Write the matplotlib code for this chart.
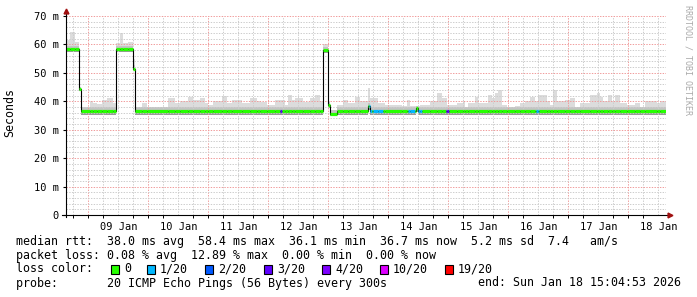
import numpy as np
import matplotlib.pyplot as plt
from matplotlib.patches import Rectangle

# time axis: hours since graph start (Jan 8 15:04:53), 240 h shown
# smoke (max ping) as steps
smoke_edges = [0, 1.6, 3.6, 5.2, 6.0, 9.6, 10.8, 12.4, 14.4, 16.4, 18.8, 20.0, 21.6, 22.8, 24.8, 26.8,
               27.6, 30.4, 32.4, 40.8, 43.6, 45.6, 48.8, 50.8, 53.6, 55.6, 56.8, 58.8, 62.4, 64.4, 66.4,
               70.4, 73.6, 76.4, 77.6, 80.4, 83.6, 87.6, 88.8, 90.4, 91.6, 94.8, 97.6, 99.6, 101.6, 102.8,
               104.8, 105.6, 108.4, 110.8, 112.8, 115.6, 117.6, 120.8, 121.6, 124.8, 127.6, 134.4, 136.4,
               137.6, 139.6, 141.6, 145.6, 148.4, 150.4, 152.4, 156.4, 158.8, 159.6, 160.8, 163.6, 164.8,
               168.8, 170.4, 171.6, 172.8, 174.4, 176.4, 179.6, 181.6, 183.6, 185.6, 187.6, 188.8, 192.4,
               193.6, 194.8, 196.4, 199.6, 201.6, 203.6, 205.6, 209.6, 212.4, 213.6, 214.8, 216.8, 218.4,
               219.6, 221.6, 224.4, 227.6, 229.6, 231.6, 236.4, 237.6, 240.0]
smoke_max = [61.5, 64.5, 61, 45, 38, 40, 39.5, 39, 40.4, 41, 39.5, 60.5, 64, 60.5, 61,
             55, 37.9, 39.3, 38, 41, 39.3, 40, 41.5, 40.4, 41, 39.3, 38.8, 40, 42, 39.3,
             40.4, 39.5, 41, 40, 39.9, 38.7, 40.4, 38.7, 42.2, 40.4, 41, 39.9, 41, 42.2, 40,
             60, 40, 37, 38.7, 40.4, 39.5, 41.6, 40, 44.6, 41, 39.3, 38.8, 38.3,
             40.4, 38.3, 38.5, 38.8, 40, 42.8, 41, 38.8, 39.3, 40, 38, 39.5, 41.4,
             39.3, 42.2, 41, 42.8, 44, 38.8, 38, 38.3, 39.3, 40, 41.6, 40, 42.2,
             40, 38.8, 44, 40, 40.4, 41, 38, 39.3, 42.2, 42.8, 41.5, 40, 42.2,
             40, 42.2, 39.3, 38.8, 39.5, 38, 40, 39.3, 40]

# median rtt (ms) with lower / middle smoke levels
med_edges = [0, 5.2, 6.0, 20.0, 26.8, 27.6, 102.8, 104.8, 105.6, 108.4, 120.8, 121.6, 140.0, 140.8, 240]
median = [58.3, 44.3, 36.7, 58.4, 51.5, 36.7, 58.0, 38.7, 35.6, 36.7, 38.5, 36.7, 37.5, 36.7]
smoke_min = [57.2, 43.5, 35.3, 57.3, 50.5, 35.3, 57.0, 37.6, 35.0, 35.3, 36.8, 35.3, 36.4, 35.3]
smoke_mid = [59.6, 45.0, 38.0, 59.6, 52.6, 38.0, 59.2, 39.6, 36.8, 38.0, 39.5, 38.0, 38.4, 38.0]

# packet loss periods
loss_start = [85.6, 121.2, 122.8, 136.8, 140.8, 152.0, 188.0]
loss_end = [86.4, 122.4, 126.8, 139.6, 142.4, 153.2, 189.2]
loss_level = [3, 1, 1, 1, 1, 3, 1]

loss_labels = ['0', '1/20', '2/20', '3/20', '4/20', '10/20', '19/20']
loss_colors = ['#26ff00', '#00b8ff', '#0059ff', '#5e00ff', '#7e00ff', '#dd00ff', '#ff0000']

day_labels = ['09 Jan', '10 Jan', '11 Jan', '12 Jan', '13 Jan', '14 Jan', '15 Jan', '16 Jan', '17 Jan', '18 Jan']
first_midnight = 8.933  # Jan 9 00:00 in hours since start

MONO = 'DejaVu Sans Mono'

# common step grid
edges = np.unique(np.concatenate([smoke_edges, med_edges, loss_start, loss_end]))
mids = (edges[:-1] + edges[1:]) / 2
si = np.searchsorted(smoke_edges, mids) - 1
mi = np.searchsorted(med_edges, mids) - 1
top = np.array(smoke_max)[si]
med = np.array(median)[mi]
low = np.array(smoke_min)[mi]
mid = np.minimum(np.array(smoke_mid)[mi], top)
level = np.zeros(len(mids), dtype=int)
for s, e, l in zip(loss_start, loss_end, loss_level):
    level[(mids > s) & (mids < e)] = l

fig = plt.figure(figsize=(6.97, 2.97), dpi=100)
ax = fig.add_axes([66 / 697, 82 / 297, 600 / 697, 199 / 297])
ax.set_xlim(0, 240)
ax.set_ylim(0, 70)
for sp in ax.spines.values():
    sp.set_visible(False)

# smoke
ax.stairs(top, edges, baseline=mid, fill=True, color='#dcdcdc', lw=0, zorder=1)
ax.stairs(mid, edges, baseline=med, fill=True, color='#c4c4c4', lw=0, zorder=1)
ax.stairs(med, edges, baseline=low, fill=True, color='#9a9a9a', lw=0, zorder=1)

# grid
dots = (0, (1.4, 1.4))
day_x = first_midnight + 24 * np.arange(10)
six_x = [h for h in first_midnight - 6 + 6 * np.arange(41) if 0 < h < 240 and (h - first_midnight) % 24 != 0]
ax.vlines(six_x, 0, 70, colors='#cccccc', linestyles=dots, lw=0.7, zorder=2)
ax.vlines(day_x, 0, 70, colors='#f09a9a', linestyles=dots, lw=0.7, zorder=2)
ax.hlines([v for v in range(2, 71, 2) if v % 10], 0, 240, colors='#cccccc', linestyles=dots, lw=0.7, zorder=2)
ax.hlines(range(10, 71, 10), 0, 240, colors='#f09a9a', linestyles=dots, lw=0.7, zorder=2)

# median line with loss colour
ax.stairs(median, med_edges, baseline=None, color='black', lw=0.8, zorder=3)
ax.hlines(med, edges[:-1], edges[1:], colors=[loss_colors[l] for l in level], lw=2.3, zorder=4)

# axes with arrows
ax.plot([0, 0], [-0.6, 71.5], color='black', lw=0.8, clip_on=False, zorder=5)
ax.plot([-1.6, 241], [0, 0], color='black', lw=0.8, clip_on=False, zorder=5)
ax.plot(0, 71.8, marker='^', color='#a01010', ms=3.5, clip_on=False, zorder=6)
ax.plot(241.6, 0, marker='>', color='#a01010', ms=3.5, clip_on=False, zorder=6)

ax.set_yticks(range(0, 71, 10))
ax.set_yticklabels(['0'] + ['%d m' % v for v in range(10, 71, 10)])
ax.set_xticks(day_x + 12)
ax.set_xticklabels(day_labels)
ax.set_xticks(sorted(list(six_x) + list(day_x)), minor=True)
ax.tick_params(axis='y', length=2, width=0.8, pad=3, labelsize=7.5)
ax.tick_params(axis='x', which='major', length=0, pad=5, labelsize=7.5)
ax.tick_params(axis='x', which='minor', length=2, width=0.7)
for lab in ax.get_xticklabels() + ax.get_yticklabels():
    lab.set_family(MONO)

fig.text(10 / 697, 1 - 113 / 297, 'Seconds', rotation=90, ha='center', va='center', family=MONO, size=8.4)
fig.text(688 / 697, 1 - 60 / 297, 'RRDTOOL / TOBI OETIKER', rotation=270, ha='center', va='center',
         family=MONO, size=6, color='#aaaaaa')

lines = ['median rtt:  38.0 ms avg  58.4 ms max  36.1 ms min  36.7 ms now  5.2 ms sd  7.4   am/s',
         'packet loss: 0.08 % avg  12.89 % max  0.00 % min  0.00 % now']
for i, txt in enumerate(lines):
    fig.text(16 / 697, 1 - (241 + 14 * i) / 297, txt, va='center', family=MONO, size=8.4)

fig.text(16 / 697, 1 - 269 / 297, 'loss color:', va='center', family=MONO, size=8.4)
label_x = [124, 160, 218, 277, 335, 393, 458]
for lx, lab, c in zip(label_x, loss_labels, loss_colors):
    fig.add_artist(Rectangle(((lx - 13) / 697, 1 - 273.5 / 297), 8 / 697, 9 / 297, transform=fig.transFigure,
                             facecolor=c, edgecolor='black', lw=0.8))
    fig.text(lx / 697, 1 - 269 / 297, lab, va='center', family=MONO, size=8.4)

fig.text(16 / 697, 1 - 283 / 297, 'probe:       20 ICMP Echo Pings (56 Bytes) every 300s', va='center',
         family=MONO, size=8.4)
fig.text(681 / 697, 1 - 283 / 297, 'end: Sun Jan 18 15:04:53 2026', va='center', ha='right',
         family=MONO, size=8.4)

fig.savefig('out.png', dpi=100, facecolor='white')
